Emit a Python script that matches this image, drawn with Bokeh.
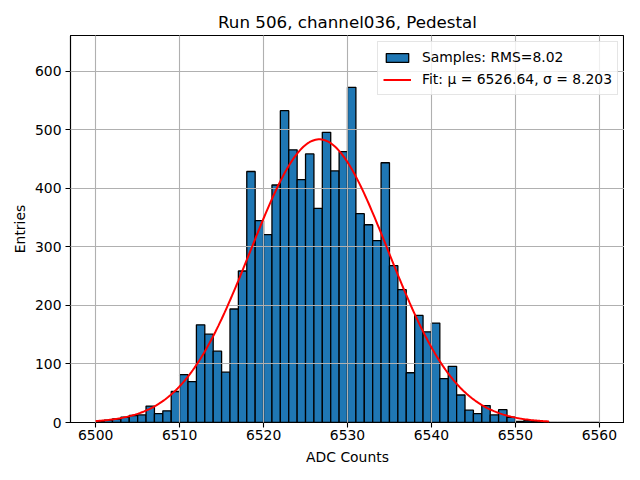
import numpy as np
from bokeh.plotting import figure
from bokeh.models import Range1d, FixedTicker, Legend, LegendItem
from bokeh.embed import file_html
from bokeh.resources import INLINE

# ---- data ----
bin_start = 6500
bin_width = 1
counts = [
    2, 4, 6, 9, 12, 13, 28, 15, 20, 53,
    82, 70, 167, 151, 122, 86, 194, 259, 429, 345,
    321, 406, 533, 466, 415, 459, 366, 496, 430, 463,
    573, 357, 338, 311, 444, 268, 227, 85, 183, 155,
    170, 75, 96, 47, 21, 15, 29, 13, 22, 9,
    2, 3, 2, 1, 0, 0, 0, 0, 0, 0,
]
fit_mu = 6526.64
fit_sigma = 8.203
fit_amplitude = 484
data_min = 6500
data_max = 6554
x_ticks = [6500, 6510, 6520, 6530, 6540, 6550, 6560]
y_ticks = [0, 100, 200, 300, 400, 500, 600]
title_text = "Run 506, channel036, Pedestal"
hist_label = "Samples: RMS=8.02"
fit_label = "Fit: \u03bc = 6526.64, \u03c3 = 8.203"

FONT = "DejaVu Sans"

lefts = bin_start + bin_width * np.arange(len(counts))
rights = lefts + bin_width

fx = np.linspace(data_min, data_max, 300)
fy = fit_amplitude * np.exp(-0.5 * ((fx - fit_mu) / fit_sigma) ** 2)

p = figure(
    width=624, height=464,
    frame_width=554, frame_height=387,
    min_border_left=70, min_border_right=0,
    min_border_top=35, min_border_bottom=42,
    output_backend="svg", toolbar_location=None,
    x_range=Range1d(6497, 6563), y_range=Range1d(0, 661.5),
)

p.title.text = title_text
p.title.align = "center"
p.title.text_font = FONT
p.title.text_font_size = "16.7px"
p.title.text_font_style = "normal"
p.title.text_color = "black"
p.title.standoff = 8

bars = p.quad(left=lefts, right=rights, bottom=0, top=counts,
              fill_color="#1f77b4", line_color="black", line_width=1.3)
fit = p.line(fx, fy, line_color="red", line_width=2.0, level="overlay")

for ax in (p.xaxis, p.yaxis):
    ax.major_label_text_font = FONT
    ax.major_label_text_font_size = "13.9px"
    ax.major_label_text_color = "black"
    ax.axis_label_text_font = FONT
    ax.axis_label_text_font_size = "13.9px"
    ax.axis_label_text_font_style = "normal"
    ax.axis_label_text_color = "black"
    ax.axis_line_color = "black"
    ax.axis_line_width = 1.1
    ax.major_tick_line_color = "black"
    ax.major_tick_line_width = 1.1
    ax.major_tick_out = 5
    ax.major_tick_in = 0
    ax.minor_tick_line_color = None

p.xaxis.major_label_standoff = 2
p.xaxis.axis_label_standoff = 6
p.yaxis.major_label_standoff = 4
p.yaxis.axis_label_standoff = 4

p.xaxis.axis_label = "ADC Counts"
p.yaxis.axis_label = "Entries"
p.xaxis.ticker = FixedTicker(ticks=x_ticks)
p.yaxis.ticker = FixedTicker(ticks=y_ticks)

p.xgrid.ticker = FixedTicker(ticks=x_ticks)
p.ygrid.ticker = FixedTicker(ticks=y_ticks)
for g in (p.xgrid, p.ygrid):
    g.grid_line_color = "#b0b0b0"
    g.grid_line_width = 1.1
    g.level = "guide"

p.outline_line_color = "black"
p.outline_line_width = 1.1
p.outline_line_alpha = 1.0
p.background_fill_color = "white"
p.border_fill_color = "white"

legend = Legend(items=[
    LegendItem(label=hist_label, renderers=[bars]),
    LegendItem(label=fit_label, renderers=[fit]),
])
legend.location = "top_right"
legend.margin = 6
legend.padding = 5
legend.spacing = 2
legend.label_standoff = 11
legend.glyph_width = 28
legend.glyph_height = 11
legend.label_height = 20
legend.label_text_font = FONT
legend.label_text_font_size = "13.9px"
legend.label_text_color = "black"
legend.border_line_color = "#cccccc"
legend.border_line_width = 1
legend.background_fill_alpha = 0.8
p.add_layout(legend, "center")

open("out.html", "w").write(file_html(p, INLINE))
